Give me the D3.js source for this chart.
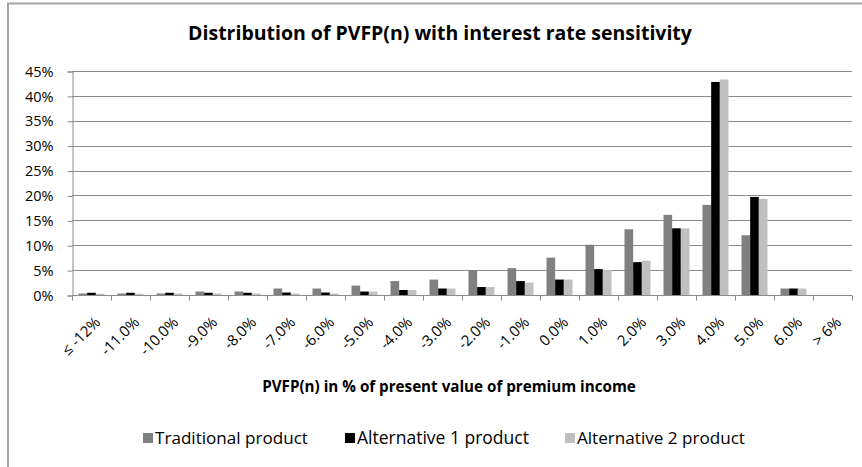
<!DOCTYPE html>
<html>
<head>
<meta charset="utf-8">
<script src="https://cdn.jsdelivr.net/npm/d3@7"></script>
<style>
  html, body { margin: 0; padding: 0; background: #fff; }
  svg { display: block; }
  text { font-family: "Open Sans", "Noto Sans", sans-serif; fill: #000; }
</style>
</head>
<body>
<svg id="chart" width="862" height="467"></svg>
<script>
// ---- data ----
const categories = ["≤ -12%", "-11.0%", "-10.0%", "-9.0%", "-8.0%", "-7.0%", "-6.0%", "-5.0%", "-4.0%", "-3.0%",
  "-2.0%", "-1.0%", "0.0%", "1.0%", "2.0%", "3.0%", "4.0%", "5.0%", "6.0%", "> 6%"];
const seriesNames = ["Traditional product", "Alternative 1 product", "Alternative 2 product"];
const traditional = [0.3, 0.3, 0.3, 0.7, 0.7, 1.3, 1.3, 1.9, 2.8, 3.1, 5.0, 5.4, 7.5, 10.1, 13.2, 16.1, 18.1, 12.0, 1.3, 0];
const alternative1 = [0.45, 0.45, 0.45, 0.45, 0.45, 0.5, 0.5, 0.7, 1.0, 1.3, 1.6, 2.8, 3.1, 5.2, 6.6, 13.4, 42.8, 19.7, 1.3, 0];
const alternative2 = [0.25, 0.25, 0.3, 0.3, 0.3, 0.3, 0.3, 0.7, 1.0, 1.3, 1.6, 2.5, 3.1, 5.0, 6.9, 13.4, 43.3, 19.3, 1.3, 0];
const yTicks = [0, 5, 10, 15, 20, 25, 30, 35, 40, 45];
const titleText = "Distribution of PVFP(n) with interest rate sensitivity";
const xTitleText = "PVFP(n) in % of present value of premium income";

const colors = ["#808080", "#000000", "#c0c0c0"];
const seriesValues = [traditional, alternative1, alternative2];

const svg = d3.select("#chart");

function fitWidth(sel, target) {
  const w = sel.node().getComputedTextLength();
  const fs = parseFloat(sel.attr("font-size"));
  sel.attr("font-size", (fs * target / w).toFixed(2));
}

// chart border
svg.append("path")
  .attr("d", "M8,470 L8,3.5 L870,3.5")
  .attr("fill", "none").attr("stroke", "#a6a6a6").attr("stroke-width", 2);

// scales
const x = d3.scaleBand().domain(categories).range([72, 852]).paddingInner(1 / 3).paddingOuter(1 / 6);
const xs = d3.scaleBand().domain(d3.range(3)).range([0, x.bandwidth()]);
const y = d3.scaleLinear().domain([0, 45]).range([295, 71]);

// gridlines
svg.append("g").selectAll("line").data(yTicks.filter(d => d > 0)).join("line")
  .attr("x1", 72).attr("x2", 852)
  .attr("y1", d => Math.round(y(d)) + 0.5).attr("y2", d => Math.round(y(d)) + 0.5)
  .attr("stroke", "#8c8c8c").attr("stroke-width", 1);

// bars
const groups = svg.append("g").selectAll("g").data(categories).join("g")
  .attr("transform", d => `translate(${x(d)},0)`);
groups.selectAll("rect").data((d, i) => seriesValues.map((vals, s) => ({ s, v: vals[i] }))).join("rect")
  .attr("x", d => xs(d.s))
  .attr("width", xs.bandwidth())
  .attr("y", d => y(d.v))
  .attr("height", d => y(0) - y(d.v))
  .attr("fill", d => colors[d.s]);

// y axis
const yAxis = svg.append("g").attr("transform", "translate(72.5,0.5)")
  .call(d3.axisLeft(y).tickValues(yTicks).tickFormat(d => d + "%").tickSize(5).tickPadding(14));
yAxis.select(".domain").attr("stroke", "#8c8c8c");
yAxis.selectAll(".tick line").attr("stroke", "#8c8c8c");
yAxis.selectAll("text").attr("font-size", 14.5).attr("font-family", "Open Sans, sans-serif").attr("fill", "#000");

// x axis
const xAxis = svg.append("g").attr("transform", "translate(0,295.5)");
xAxis.append("line").attr("x1", 72).attr("x2", 852).attr("y1", 0).attr("y2", 0).attr("stroke", "#8c8c8c");
const edges = d3.range(categories.length + 1).map(i => 72 + i * x.step());
xAxis.selectAll("line.tk").data(edges).join("line").attr("class", "tk")
  .attr("x1", d => Math.round(d) + 0.5).attr("x2", d => Math.round(d) + 0.5)
  .attr("y1", 0).attr("y2", 5).attr("stroke", "#8c8c8c");
xAxis.selectAll("text").data(categories).join("text")
  .attr("transform", d => `translate(${x(d) + x.bandwidth() / 2 + 6},${24}) rotate(-45)`)
  .attr("text-anchor", "end")
  .attr("dy", "0.35em")
  .attr("font-size", 15)
  .text(d => d);

// title
const title = svg.append("text").attr("x", 440).attr("y", 40).attr("text-anchor", "middle")
  .attr("font-size", 17).attr("font-weight", "bold").text(titleText);
fitWidth(title, 504);

// x axis title
const xt = svg.append("text").attr("x", 449).attr("y", 392).attr("text-anchor", "middle")
  .attr("font-size", 14).attr("font-weight", "bold").text(xTitleText);
fitWidth(xt, 374);

// legend
const legendX = [143, 345, 565];
const legendW = [153, 172, 168];
const lg = svg.append("g").selectAll("g").data(seriesNames).join("g")
  .attr("transform", (d, i) => `translate(${legendX[i]},0)`);
lg.append("rect").attr("x", 0).attr("y", 433).attr("width", 10).attr("height", 10)
  .attr("fill", (d, i) => colors[i]);
lg.append("text").attr("x", 12).attr("y", 444).attr("font-size", 14).text(d => d)
  .each(function (d, i) { fitWidth(d3.select(this), legendW[i]); });
</script>
</body>
</html>
